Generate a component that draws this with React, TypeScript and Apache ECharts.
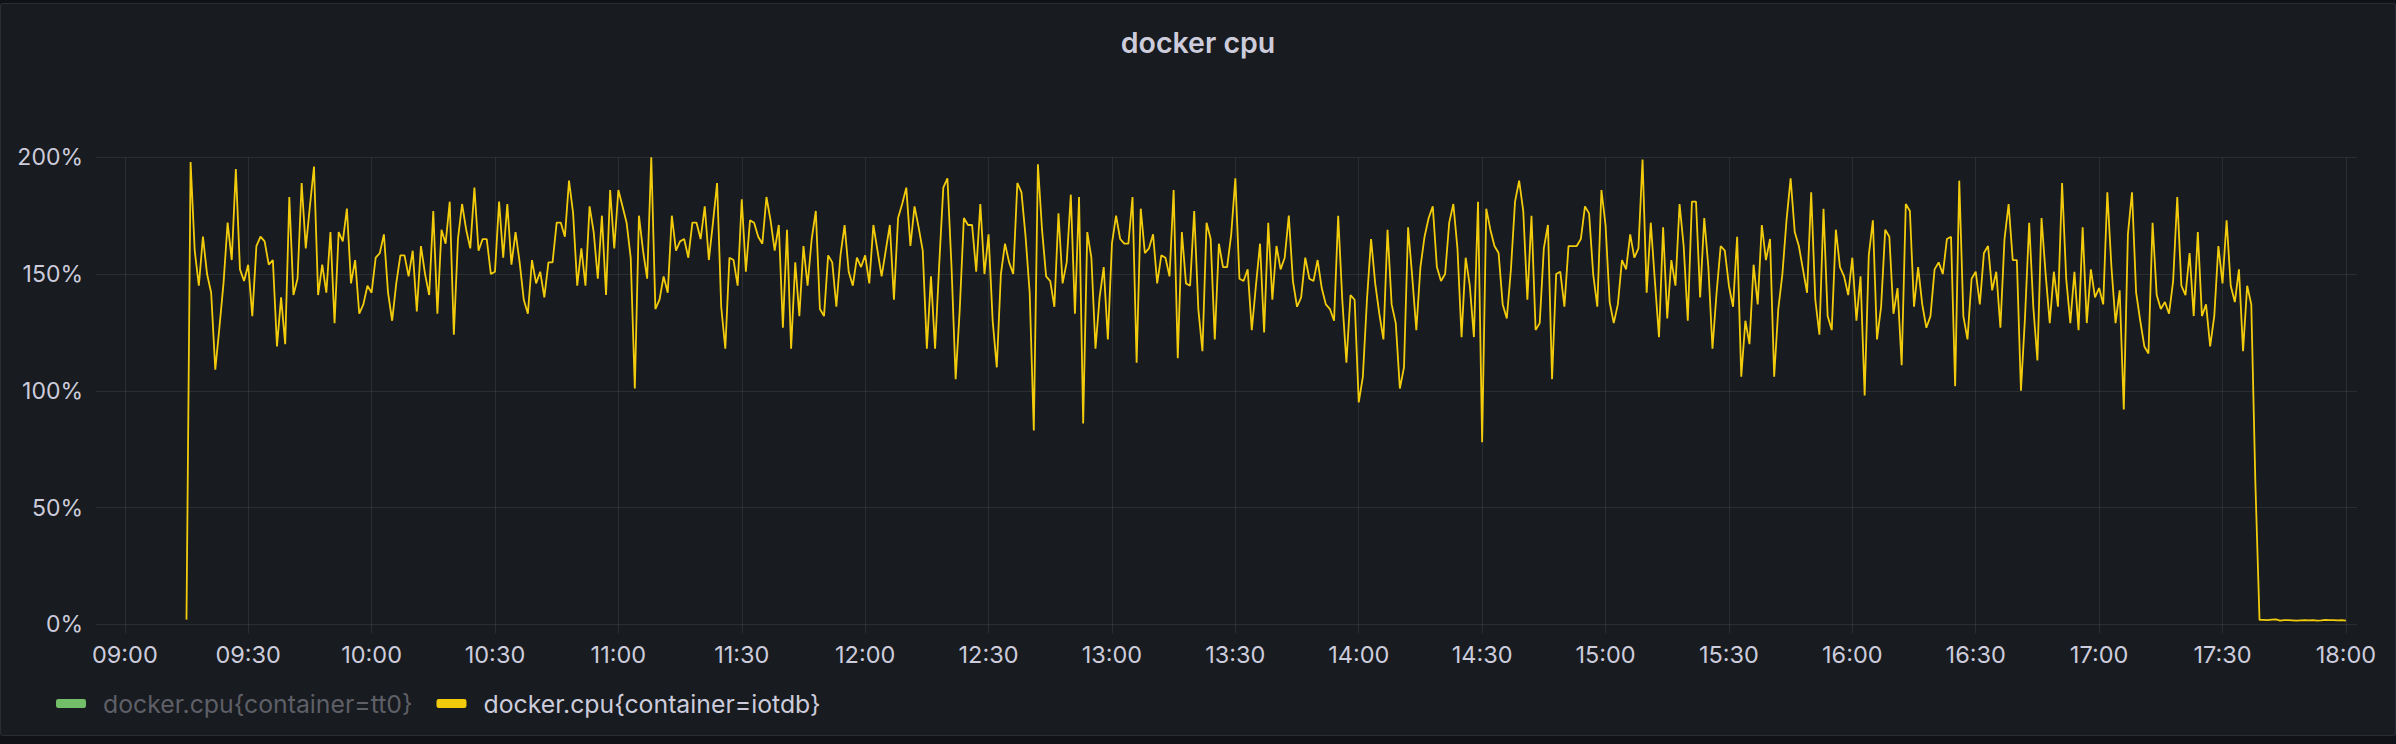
import React, { useEffect, useRef } from "react";
import * as echarts from "echarts";

// Minute-resolution CPU values (%).
// h09 starts at 09:15, the others start at the top of their hour.
const h09 = [2, 198, 160, 145, 166, 150, 142, 109, 127, 146, 172, 156, 195, 152, 147, 154, 132, 162, 166, 164, 154, 156, 119, 140, 120, 183, 141, 148, 189, 161, 179, 196, 141, 154, 142, 168, 129, 168, 164, 178, 146, 156, 133, 137, 145];
const h10 = [142, 157, 159, 167, 142, 130, 146, 158, 158, 149, 160, 134, 162, 150, 141, 177, 133, 169, 163, 181, 124, 165, 180, 169, 161, 187, 160, 165, 165, 150, 151, 181, 157, 180, 154, 168, 155, 139, 133, 156, 146, 151, 140, 155, 155, 172, 172, 166, 190, 176, 145, 161, 145, 179, 168, 148, 175, 141, 186, 161];
const h11 = [186, 179, 172, 157, 101, 175, 160, 148, 200, 135, 139, 149, 142, 175, 160, 164, 165, 157, 172, 172, 165, 179, 156, 172, 189, 136, 118, 157, 156, 145, 182, 151, 173, 172, 166, 163, 183, 173, 160, 171, 127, 169, 118, 155, 132, 162, 145, 165, 177, 135, 132, 158, 155, 136, 158, 171, 151, 145, 157, 153];
const h12 = [158, 146, 171, 160, 149, 160, 171, 139, 174, 180, 187, 162, 179, 170, 160, 118, 149, 118, 154, 187, 191, 153, 105, 135, 174, 171, 171, 151, 180, 150, 167, 130, 110, 150, 163, 155, 150, 189, 185, 166, 142, 83, 197, 169, 149, 147, 136, 176, 146, 155, 184, 133, 183, 86, 168, 157, 118, 140, 153, 122];
const h13 = [163, 175, 165, 163, 163, 183, 112, 178, 159, 161, 167, 146, 158, 157, 149, 186, 114, 168, 146, 145, 177, 135, 117, 172, 165, 122, 163, 153, 153, 167, 191, 148, 147, 152, 126, 145, 163, 125, 172, 139, 162, 152, 157, 175, 147, 136, 140, 157, 148, 147, 156, 144, 137, 135, 130, 175, 139, 112, 141, 139];
const h14 = [95, 106, 139, 165, 146, 133, 122, 169, 137, 129, 101, 110, 170, 149, 126, 153, 166, 174, 179, 153, 147, 150, 172, 180, 161, 123, 157, 145, 123, 181, 78, 178, 169, 162, 159, 137, 131, 152, 181, 190, 177, 139, 175, 126, 129, 161, 171, 105, 150, 151, 136, 162, 162, 162, 165, 179, 176, 150, 136, 186];
const h15 = [171, 138, 129, 137, 156, 152, 167, 157, 161, 199, 142, 172, 147, 123, 170, 131, 156, 145, 180, 162, 130, 181, 181, 140, 174, 153, 118, 142, 162, 160, 145, 136, 166, 106, 130, 120, 154, 137, 171, 156, 165, 106, 135, 150, 173, 191, 168, 162, 152, 142, 185, 139, 124, 178, 132, 126, 169, 153, 149, 141];
const h16 = [157, 130, 149, 98, 158, 173, 122, 136, 169, 166, 133, 144, 111, 180, 177, 136, 153, 137, 127, 132, 152, 155, 150, 165, 166, 102, 190, 132, 122, 148, 151, 137, 159, 162, 143, 151, 127, 165, 180, 156, 156, 100, 132, 172, 136, 113, 174, 150, 129, 151, 136, 189, 148, 129, 151, 126, 170, 129, 152, 140];
const h17 = [144, 137, 185, 153, 129, 143, 92, 167, 185, 142, 130, 119, 116, 172, 141, 135, 138, 133, 147, 183, 145, 141, 159, 132, 168, 132, 137, 119, 132, 162, 146, 173, 145, 138, 152, 117, 145, 137, 60, 1.9, 1.9, 1.8, 2.0, 2.1, 1.6, 1.8, 1.8, 1.7, 1.6, 1.7, 1.8, 1.7, 1.8, 1.6, 1.7, 1.9, 1.8, 1.8, 1.7, 1.8];
const h18 = [1.6];

const blockStarts = [15, 60, 120, 180, 240, 300, 360, 420, 480, 540]; // minutes after 09:00
const blocks = [h09, h10, h11, h12, h13, h14, h15, h16, h17, h18];

const seriesNames = ["docker.cpu{container=tt0}", "docker.cpu{container=iotdb}"];
const yTicks = [0, 50, 100, 150, 200];
const xTickLabels = [
  "09:00", "09:30", "10:00", "10:30", "11:00", "11:30", "12:00", "12:30", "13:00",
  "13:30", "14:00", "14:30", "15:00", "15:30", "16:00", "16:30", "17:00", "17:30", "18:00",
];

const pad = (n: number) => (n < 10 ? "0" + n : "" + n);
// x is expressed in minutes after 09:00
const toMin = (hm: string) => {
  const [h, m] = hm.split(":").map(Number);
  return (h - 9) * 60 + m;
};
const fromMin = (v: number) => {
  const t = Math.round(v) + 9 * 60;
  return pad(Math.floor(t / 60)) + ":" + pad(t % 60);
};

export default function App() {
  const ref = useRef<HTMLDivElement>(null);

  useEffect(() => {
    document.body.style.margin = "0";
    if (!ref.current) return;
    const chart = echarts.init(ref.current, undefined, { renderer: "svg" });

    const data: [number, number][] = [];
    blocks.forEach((arr, b) => {
      arr.forEach((v, i) => {
        data.push([blockStarts[b] + i, v]);
      });
    });
    const xTickValues = xTickLabels.map(toMin);

    const grid = "rgba(204,204,220,0.10)";
    const text = "#ccccdc";
    const font = "Inter, Roboto, sans-serif";

    chart.setOption({
      animation: false,
      backgroundColor: "transparent",
      textStyle: { fontFamily: font },
      title: {
        text: "docker cpu",
        left: "center",
        top: 23,
        textStyle: { color: text, fontSize: 28.5, fontWeight: 600, fontFamily: font },
      },
      legend: {
        left: 51,
        top: 686,
        icon: "roundRect",
        itemWidth: 30,
        itemHeight: 9,
        itemGap: 24,
        textStyle: { color: text, fontSize: 24.8, fontFamily: font, padding: [0, 0, 0, 12] },
        data: [
          { name: seriesNames[0], textStyle: { color: "#5e5f67" } },
          { name: seriesNames[1] },
        ],
      },
      grid: { left: 96, right: 39, top: 157.3, bottom: 119.7 },
      xAxis: {
        type: "value",
        min: -7,
        max: 542.7,
        axisLine: { show: false },
        axisTick: { show: true, length: 9, lineStyle: { color: grid }, customValues: xTickValues },
        splitLine: { show: true, lineStyle: { color: grid, width: 1 } },
        axisLabel: {
          color: text,
          fontSize: 23.5,
          margin: 18,
          fontFamily: font,
          customValues: xTickValues,
          formatter: (v: number) => fromMin(v),
        },
      },
      yAxis: {
        type: "value",
        min: yTicks[0],
        max: yTicks[yTicks.length - 1],
        interval: 50,
        axisLine: { show: false },
        axisTick: { show: false },
        splitLine: { show: true, lineStyle: { color: grid, width: 1 } },
        axisLabel: {
          color: text,
          fontSize: 23,
          margin: 13,
          fontFamily: font,
          formatter: "{value}%",
        },
      },
      series: [
        {
          name: seriesNames[0],
          type: "line",
          data: [],
          color: "#73bf69",
          showSymbol: false,
        },
        {
          name: seriesNames[1],
          type: "line",
          data,
          color: "#f2cc0c",
          showSymbol: false,
          lineStyle: { width: 1.8, color: "#f2cc0c" },
        },
      ],
    });

    return () => chart.dispose();
  }, []);

  return (
    <div style={{ position: "relative", width: 2396, height: 744, background: "#111217", overflow: "hidden" }}>
      <div
        style={{
          position: "absolute",
          left: 0,
          top: 3,
          width: 2394,
          height: 731,
          background: "#181b1f",
          border: "1px solid rgba(204,204,220,0.10)",
          borderRadius: 3,
        }}
      />
      <div ref={ref} style={{ position: "absolute", left: 0, top: 0, width: 2396, height: 744 }} />
    </div>
  );
}
